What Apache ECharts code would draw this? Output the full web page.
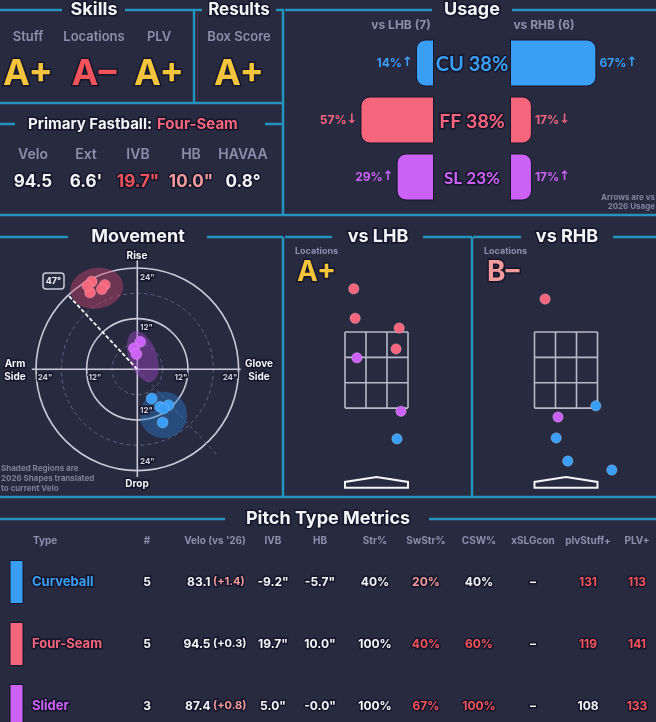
<!DOCTYPE html>
<html>
<head>
<meta charset="utf-8">
<script src="https://cdn.jsdelivr.net/npm/echarts@6/dist/echarts.min.js"></script>
<style>
html, body { margin: 0; padding: 0; background: #282a40; }
#main { width: 656px; height: 722px; }
</style>
</head>
<body>
<div id="main"></div>
<script>
var FONT = 'Inter, "Noto Sans", sans-serif';
var BG = '#282a40', LINE = '#2494bd', GRAY = '#8b8fac', WHITE = '#f4f4f8';
var RED = '#f2545b', PINK = '#f39a9a', YELLOW = '#f4c53c';
var pitchColors = { CU: '#3b9ef5', FF: '#f5657c', SL: '#cb62f5' };

// skills / results
var skillNames = ['Stuff', 'Locations', 'PLV'];
var skillGrades = ['A+', 'A–', 'A+'];
var boxScoreGrade = 'A+';
var primaryFastball = 'Four-Seam';
var fbLabels = ['Velo', 'Ext', 'IVB', 'HB', 'HAVAA'];
var fbValues = ['94.5', "6.6'", '19.7"', '10.0"', '0.8°'];

// usage
var usageCodes = ['CU', 'FF', 'SL'];
var usageAll = [38, 38, 23];
var usageLHB = [14, 57, 29];
var usageRHB = [67, 17, 17];
var arrowLHB = ['↑', '↓', '↑'];
var arrowRHB = ['↑', '↓', '↑'];
var countLHB = 7, countRHB = 6;

// movement, inches (glove side +, rise +)
var mvCU = [[3.4, -6.9], [5.4, -8.9], [7.4, -8.5], [6.2, -9.3], [6.0, -12.6]];
var mvFF = [[-10.8, 20.8], [-7.7, 20.0], [-8.4, 19.0], [-11.2, 18.2], [-11.8, 19.8]];
var mvSL = [[0.7, 6.5], [-0.8, 5.0], [-0.2, 3.6]];
// 2026 shapes: centre x, centre y, semi x, semi y, tilt
var shapeCU = [6.2, -10.8, 5.6, 5.5, 0];
var shapeFF = [-9.6, 19.2, 6.3, 4.8, 10];
var shapeSL = [1.3, 3.0, 3.3, 6.3, 20];
var armAngle = 47;
var rings = [6, 12, 18, 24];

// locations, feet
var lhbFF = [[-0.51, 4.47], [-0.48, 3.81], [0.51, 3.59], [0.44, 3.12]];
var lhbSL = [[-0.44, 2.92], [0.55, 1.72]];
var lhbCU = [[0.46, 1.10]];
var rhbFF = [[-0.47, 4.24]];
var rhbSL = [[-0.18, 1.59]];
var rhbCU = [[0.67, 1.84], [-0.22, 1.12], [0.04, 0.60], [1.03, 0.40]];
var locGradeLHB = 'A+', locGradeRHB = 'B–';
var zone = [-0.708, 0.708, 1.79, 3.5];

// table
var tableHeaders = ['Type', '#', "Velo (vs '26)", 'IVB', 'HB', 'Str%', 'SwStr%', 'CSW%', 'xSLGcon', 'plvStuff+', 'PLV+'];
var pitchNames = ['Curveball', 'Four-Seam', 'Slider'];
var pitchCodes = ['CU', 'FF', 'SL'];
var counts = ['5', '5', '3'];
var velos = ['83.1', '94.5', '87.4'];
var veloDiffs = ['(+1.4)', '(+0.3)', '(+0.8)'];
var ivbs = ['-9.2"', '19.7"', '5.0"'];
var hbs = ['-5.7"', '10.0"', '-0.0"'];
var strPct = ['40%', '100%', '100%'];
var swStrPct = ['20%', '40%', '67%'];
var cswPct = ['40%', '60%', '100%'];
var xslgcon = ['–', '–', '–'];
var plvStuff = ['131', '119', '108'];
var plvPlus = ['113', '141', '133'];

// cell colours
var veloDiffColors = [PINK, WHITE, PINK];
var swStrColors = [PINK, RED, RED];
var cswColors = [WHITE, RED, RED];
var plvStuffColors = [RED, RED, WHITE];
var plvPlusColors = [RED, RED, RED];

var chart = echarts.init(document.getElementById('main'));
var g = [];

function txt(x, y, s, size, color, align, weight, outline, family) {
  g.push({
    type: 'text', x: x, y: y, silent: true, z: 10,
    style: {
      text: s, fill: color, font: (weight || 'bold') + ' ' + size + 'px ' + (family || FONT),
      textAlign: align || 'center', align: align || 'center',
      textVerticalAlign: 'middle', verticalAlign: 'middle',
      stroke: outline ? '#15162a' : null, lineWidth: outline ? 3 : 0, strokeFirst: true
    }
  });
}
function seg(x1, y1, x2, y2, color, w) {
  g.push({ type: 'line', silent: true, z: 5, shape: { x1: x1, y1: y1, x2: x2, y2: y2 },
    style: { stroke: color || LINE, lineWidth: w || 2.5 } });
}

// ---------- frame lines ----------
seg(0, 10, 62, 10); seg(125, 10, 202, 10); seg(276, 10, 284, 10);
seg(285, 10, 432, 10); seg(512, 10, 656, 10);
seg(194, 10, 194, 103); seg(197.5, 12, 197.5, 103, '#5a2a40', 1);
seg(0, 103, 283, 103);
seg(0, 124, 15, 124); seg(265, 124, 283, 124);
seg(283, 10, 283, 215);
seg(0, 215, 656, 215);
seg(0, 237, 68, 237); seg(207, 237, 283, 237); seg(283, 237, 283, 497);
seg(285, 237, 332, 237); seg(423, 237, 472, 237); seg(472, 237, 472, 497);
seg(473, 237, 521, 237); seg(613, 237, 656, 237);
seg(0, 497, 656, 497);
seg(0, 519, 225, 519); seg(429, 519, 656, 519);

// ---------- top left ----------
txt(94, 10, 'Skills', 18, WHITE, 'center', 'bold', true);
txt(239, 10, 'Results', 17, WHITE, 'center', 'bold', true);
var skillX = [28, 94, 159];
var skillColors = [YELLOW, RED, YELLOW];
skillNames.forEach(function (n, i) {
  txt(skillX[i], 37, n, 13, GRAY, 'center', '600');
  txt(skillX[i], 74, skillGrades[i], 36, skillColors[i], 'center', 'bold', true);
});
txt(239, 37, 'Box Score', 13, GRAY, 'center', '600');
txt(239, 74, boxScoreGrade, 36, YELLOW, 'center', 'bold', true);
txt(152, 124, 'Primary Fastball:', 15, WHITE, 'right', 'bold', true);
txt(157, 124, primaryFastball, 15, pitchColors.FF, 'left', 'bold', true);
var fbX = [33, 86, 138, 191, 243];
var fbColors = [WHITE, WHITE, RED, PINK, WHITE];
fbLabels.forEach(function (n, i) {
  txt(fbX[i], 155, n, 14, GRAY, 'center', '600');
  txt(fbX[i], 182, fbValues[i], 17, fbColors[i], 'center', 'bold', true);
});

// ---------- usage ----------
txt(472, 10, 'Usage', 18, WHITE, 'center', 'bold', true);
txt(401, 25, 'vs LHB (' + countLHB + ')', 12, GRAY, 'center', 'bold');
txt(544, 25, 'vs RHB (' + countRHB + ')', 12, GRAY, 'center', 'bold');
var usageY = [65, 122, 179];
var usageSize = [20, 19.5, 17];
usageCodes.forEach(function (c, i) {
  txt(472, usageY[i], c + ' ' + usageAll[i] + '%', usageSize[i], pitchColors[c], 'center', 'bold', true, 'Lato, Inter, sans-serif');
});
txt(655, 198, 'Arrows are vs', 8, '#80839c', 'right', 'bold');
txt(655, 207, '2026 Usage', 8, '#80839c', 'right', 'bold');

// ---------- movement labels ----------
txt(138, 237, 'Movement', 18, WHITE, 'center', 'bold', true);
txt(137, 256, 'Rise', 10, WHITE, 'center', 'bold', true);
txt(137, 484, 'Drop', 10, WHITE, 'center', 'bold', true);
txt(15, 364, 'Arm', 10, WHITE, 'center', 'bold', true);
txt(15, 377, 'Side', 10, WHITE, 'center', 'bold', true);
txt(259, 364, 'Glove', 10, WHITE, 'center', 'bold', true);
txt(259, 377, 'Side', 10, WHITE, 'center', 'bold', true);
var tickC = '#cfd0dc';
txt(140, 278, '24"', 8, tickC, 'left', 'bold', true);
txt(140, 328, '12"', 8, tickC, 'left', 'bold', true);
txt(140, 411, '12"', 8, tickC, 'left', 'bold', true);
txt(140, 462, '24"', 8, tickC, 'left', 'bold', true);
txt(45, 378, '24"', 8, tickC, 'center', 'bold', true);
txt(95, 378, '12"', 8, tickC, 'center', 'bold', true);
txt(181, 378, '12"', 8, tickC, 'center', 'bold', true);
txt(230, 378, '24"', 8, tickC, 'center', 'bold', true);
g.push({ type: 'rect', silent: true, z: 9, shape: { x: 43, y: 273, width: 21, height: 16, r: 3 },
  style: { fill: BG, stroke: '#c9cad6', lineWidth: 1.5 } });
txt(53.5, 281, armAngle + '°', 9, WHITE, 'center', 'bold');
txt(1, 469, 'Shaded Regions are', 8, '#7e8098', 'left', 'bold');
txt(1, 479, '2026 Shapes translated', 8, '#7e8098', 'left', 'bold');
txt(1, 489, 'to current Velo', 8, '#7e8098', 'left', 'bold');

// ---------- location labels ----------
txt(378, 237, 'vs LHB', 18, WHITE, 'center', 'bold', true);
txt(567, 237, 'vs RHB', 18, WHITE, 'center', 'bold', true);
txt(295, 251, 'Locations', 9, GRAY, 'left', 'bold');
txt(484, 251, 'Locations', 9, GRAY, 'left', 'bold');
txt(297, 273, locGradeLHB, 28, YELLOW, 'left', 'bold', true);
txt(487, 273, locGradeRHB, 28, PINK, 'left', 'bold', true);

// ---------- table ----------
txt(328, 519, 'Pitch Type Metrics', 18, WHITE, 'center', 'bold', true);
var colX = [33, 147, 215, 273, 320, 375, 426, 479, 533, 588, 637];
tableHeaders.forEach(function (h, i) {
  txt(colX[i], 541, h, 10, GRAY, i === 0 ? 'left' : 'center', 'bold');
});
var rowY = [582, 644, 706];
pitchNames.forEach(function (n, r) {
  var y = rowY[r], col = pitchColors[pitchCodes[r]];
  g.push({ type: 'rect', silent: true, z: 5, shape: { x: 10, y: y - 21.5, width: 13, height: 43 },
    style: { fill: col, stroke: '#14152a', lineWidth: 1 } });
  txt(32, y, n, 13, col, 'left', 'bold', true);
  txt(colX[1], y, counts[r], 12, WHITE, 'center', 'bold', true);
  txt(210.5, y, velos[r], 12, WHITE, 'right', 'bold', true);
  txt(213, y, veloDiffs[r], 11, veloDiffColors[r], 'left', 'bold', true);
  txt(colX[3], y, ivbs[r], 12, WHITE, 'center', 'bold', true);
  txt(colX[4], y, hbs[r], 12, WHITE, 'center', 'bold', true);
  txt(colX[5], y, strPct[r], 12, WHITE, 'center', 'bold', true);
  txt(colX[6], y, swStrPct[r], 12, swStrColors[r], 'center', 'bold', true);
  txt(colX[7], y, cswPct[r], 12, cswColors[r], 'center', 'bold', true);
  txt(colX[8], y, xslgcon[r], 12, WHITE, 'center', 'bold', true);
  txt(colX[9], y, plvStuff[r], 12, plvStuffColors[r], 'center', 'bold', true);
  txt(colX[10], y, plvPlus[r], 12, plvPlusColors[r], 'center', 'bold', true);
});

// ---------- series helpers ----------
function ellipseSeries(shape, color) {
  return {
    type: 'custom', xAxisIndex: 2, yAxisIndex: 2, silent: true, clip: false, z: 2,
    data: [shape],
    renderItem: function (params, api) {
      var cx = api.value(0), cy = api.value(1), a = api.value(2), b = api.value(3);
      var t = api.value(4) * Math.PI / 180, pts = [];
      for (var k = 0; k < 72; k++) {
        var u = k / 72 * 2 * Math.PI, ex = a * Math.cos(u), ey = b * Math.sin(u);
        pts.push(api.coord([cx + ex * Math.cos(t) - ey * Math.sin(t), cy + ex * Math.sin(t) + ey * Math.cos(t)]));
      }
      return { type: 'polygon', shape: { points: pts }, style: { fill: color } };
    }
  };
}
function segSeries(xi, data, color, w, dash, z) {
  return {
    type: 'custom', xAxisIndex: xi, yAxisIndex: xi, silent: true, clip: false, z: z || 1,
    data: data,
    renderItem: function (params, api) {
      var p1 = api.coord([api.value(0), api.value(1)]), p2 = api.coord([api.value(2), api.value(3)]);
      return { type: 'line', shape: { x1: p1[0], y1: p1[1], x2: p2[0], y2: p2[1] },
        style: { stroke: color, lineWidth: w, lineDash: dash || null } };
    }
  };
}
function dots(xi, data, color, size) {
  return { type: 'scatter', xAxisIndex: xi, yAxisIndex: xi, data: data, symbolSize: size, z: 4,
    itemStyle: { color: color, opacity: 1, borderColor: 'rgba(255,255,255,0.2)', borderWidth: 1 } };
}
function zoneSeries(xi) {
  var zx = [zone[0], zone[0] + (zone[1] - zone[0]) / 3, zone[0] + 2 * (zone[1] - zone[0]) / 3, zone[1]];
  var zz = [zone[2], zone[2] + (zone[3] - zone[2]) / 3, zone[2] + 2 * (zone[3] - zone[2]) / 3, zone[3]];
  var lines = [];
  zx.forEach(function (x) { lines.push([x, zone[2], x, zone[3]]); });
  zz.forEach(function (z) { lines.push([zone[0], z, zone[1], z]); });
  return segSeries(xi, lines, '#b8b9c6', 1.6);
}
function plateSeries(xi) {
  return {
    type: 'custom', xAxisIndex: xi, yAxisIndex: xi, silent: true, clip: false,
    data: [[0, 0]],
    renderItem: function (params, api) {
      var pts = [[zone[0], 0], [zone[1], 0], [zone[1], 0.13], [0, 0.24], [zone[0], 0.13]].map(function (p) { return api.coord(p); });
      return { type: 'polygon', shape: { points: pts }, style: { fill: 'none', stroke: WHITE, lineWidth: 2 } };
    }
  };
}

var armRad = armAngle * Math.PI / 180;
var grids = [
  { left: 305, top: 34.5, width: 129, height: 171 },
  { left: 510, top: 34.5, width: 129, height: 171 },
  { left: 36, top: 268, width: 202.6, height: 202.6 },
  { left: 287.5, top: 265.25, width: 178, height: 244.75 },
  { left: 477, top: 265.25, width: 178, height: 244.75 }
];
var xAxes = [
  { gridIndex: 0, type: 'value', min: 0, max: 100, inverse: true, show: false },
  { gridIndex: 1, type: 'value', min: 0, max: 100, show: false },
  { gridIndex: 2, type: 'value', min: -24, max: 24, show: false },
  { gridIndex: 3, type: 'value', min: -2, max: 2, show: false },
  { gridIndex: 4, type: 'value', min: -2, max: 2, show: false }
];
var yAxes = [
  { gridIndex: 0, type: 'category', data: usageCodes, inverse: true, show: false },
  { gridIndex: 1, type: 'category', data: usageCodes, inverse: true, show: false },
  { gridIndex: 2, type: 'value', min: -24, max: 24, show: false },
  { gridIndex: 3, type: 'value', min: -0.5, max: 5, show: false },
  { gridIndex: 4, type: 'value', min: -0.5, max: 5, show: false }
];

function usageBar(xi, values, arrows, side) {
  return {
    type: 'bar', xAxisIndex: xi, yAxisIndex: xi, barWidth: 47,
    data: values.map(function (v, i) {
      var c = pitchColors[usageCodes[i]];
      return { value: v, itemStyle: { color: c },
        label: { rich: { p: { color: c, fontFamily: FONT, fontWeight: 'bold', fontSize: 12 },
                         a: { color: c, fontFamily: '"DejaVu Sans"', fontWeight: 'bold', fontSize: 13 } } } };
    }),
    itemStyle: { borderRadius: side === 'left' ? [9, 0, 0, 9] : [0, 9, 9, 0], borderColor: '#16172a', borderWidth: 1 },
    label: {
      show: true, position: side, distance: 3,
      formatter: function (p) { return '{p|' + p.value + '%}{a|' + arrows[p.dataIndex] + '}'; }
    }
  };
}

var series = [
  usageBar(0, usageLHB, arrowLHB, 'left'),
  usageBar(1, usageRHB, arrowRHB, 'right'),
  ellipseSeries(shapeFF, 'rgba(205,70,105,0.42)'),
  ellipseSeries(shapeSL, 'rgba(165,70,205,0.42)'),
  ellipseSeries(shapeCU, 'rgba(40,120,200,0.45)'),
  {
    type: 'custom', xAxisIndex: 2, yAxisIndex: 2, silent: true, clip: false, z: 1,
    data: rings.map(function (r) { return [r, 0]; }),
    renderItem: function (params, api) {
      var c = api.coord([0, 0]), r = api.size([api.value(0), 0])[0];
      var major = api.value(0) % 12 === 0;
      return { type: 'circle', shape: { cx: c[0], cy: c[1], r: r },
        style: { fill: 'none', stroke: major ? '#c9cad6' : '#5d6080', lineWidth: major ? 1.6 : 1, lineDash: major ? null : [4, 3] } };
    }
  },
  segSeries(2, [[-25, 0, 24.5, 0], [0, 26, 0, -25.5]], '#c9cad6', 1.6),
  segSeries(2, [[0, 0, 28 * Math.cos(armRad), -28 * Math.sin(armRad)]], '#5d6080', 1, [4, 3]),
  segSeries(2, [[0, 0, -24 * Math.cos(armRad), 24 * Math.sin(armRad)]], WHITE, 1.8, [4, 2], 3),
  dots(2, mvFF, pitchColors.FF, 11),
  dots(2, mvSL, pitchColors.SL, 11),
  dots(2, mvCU, pitchColors.CU, 11),
  zoneSeries(3), plateSeries(3),
  zoneSeries(4), plateSeries(4),
  dots(3, lhbFF, pitchColors.FF, 10.5), dots(3, lhbSL, pitchColors.SL, 10.5), dots(3, lhbCU, pitchColors.CU, 10.5),
  dots(4, rhbFF, pitchColors.FF, 10.5), dots(4, rhbSL, pitchColors.SL, 10.5), dots(4, rhbCU, pitchColors.CU, 10.5)
];

chart.setOption({
  backgroundColor: BG,
  animation: false,
  grid: grids,
  xAxis: xAxes,
  yAxis: yAxes,
  series: series,
  graphic: { elements: g }
});
</script>
</body>
</html>
